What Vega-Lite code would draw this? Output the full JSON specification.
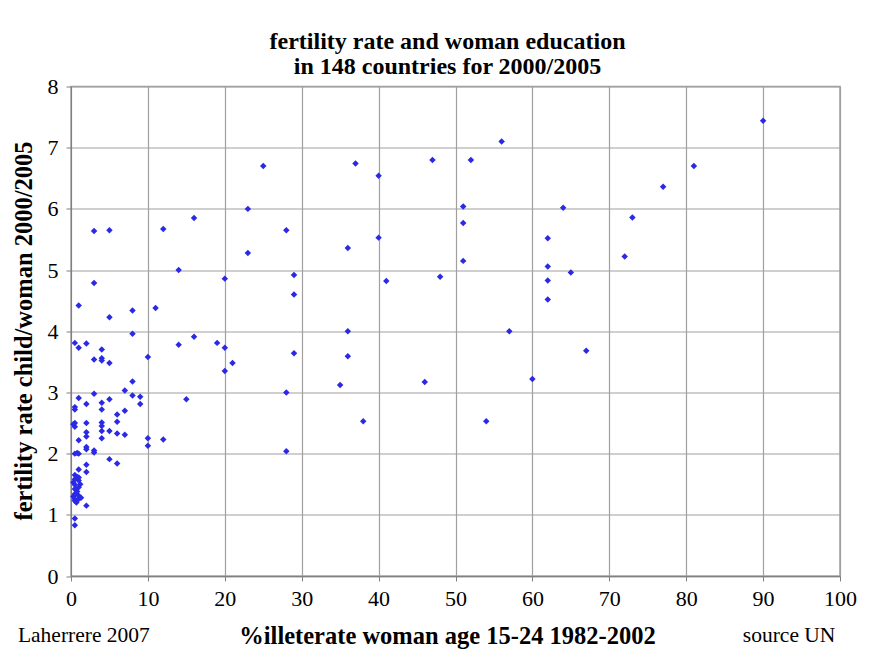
{
  "$schema": "https://vega.github.io/schema/vega-lite/v6.json",
  "width": 769,
  "height": 489.5,
  "autosize": "none",
  "padding": {"left": 71, "top": 86.5, "right": 34, "bottom": 75},
  "background": "white",
  "config": {
    "view": {"stroke": "#a0a0a0", "strokeWidth": 1.5},
    "font": "Liberation Serif"
  },
  "title": {
    "text": ["fertility rate and woman education", "in 148 countries for 2000/2005"],
    "font": "Liberation Serif",
    "fontSize": 24,
    "fontWeight": "bold",
    "color": "black",
    "lineHeight": 25,
    "anchor": "middle",
    "dx": -8,
    "offset": -3
  },
  "data": {
    "values": [
      {"illiterate": 56, "fertility": 7.1},
      {"illiterate": 25, "fertility": 6.7},
      {"illiterate": 37, "fertility": 6.74},
      {"illiterate": 40, "fertility": 6.54},
      {"illiterate": 47, "fertility": 6.8},
      {"illiterate": 52, "fertility": 6.8},
      {"illiterate": 23, "fertility": 6.0},
      {"illiterate": 51, "fertility": 6.04},
      {"illiterate": 51, "fertility": 5.77},
      {"illiterate": 28, "fertility": 5.65},
      {"illiterate": 40, "fertility": 5.53},
      {"illiterate": 36, "fertility": 5.36},
      {"illiterate": 23, "fertility": 5.28},
      {"illiterate": 51, "fertility": 5.15},
      {"illiterate": 20, "fertility": 4.86},
      {"illiterate": 29, "fertility": 4.92},
      {"illiterate": 29, "fertility": 4.6},
      {"illiterate": 41, "fertility": 4.82},
      {"illiterate": 48, "fertility": 4.89},
      {"illiterate": 36, "fertility": 4.0},
      {"illiterate": 57, "fertility": 4.0},
      {"illiterate": 19, "fertility": 3.81},
      {"illiterate": 20, "fertility": 3.73},
      {"illiterate": 21, "fertility": 3.48},
      {"illiterate": 20, "fertility": 3.35},
      {"illiterate": 29, "fertility": 3.64},
      {"illiterate": 36, "fertility": 3.59},
      {"illiterate": 35, "fertility": 3.12},
      {"illiterate": 46, "fertility": 3.17},
      {"illiterate": 60, "fertility": 3.22},
      {"illiterate": 28, "fertility": 3.0},
      {"illiterate": 38, "fertility": 2.53},
      {"illiterate": 54, "fertility": 2.53},
      {"illiterate": 28, "fertility": 2.04},
      {"illiterate": 90, "fertility": 7.44},
      {"illiterate": 81, "fertility": 6.7},
      {"illiterate": 77, "fertility": 6.36},
      {"illiterate": 64, "fertility": 6.02},
      {"illiterate": 73, "fertility": 5.86},
      {"illiterate": 62, "fertility": 5.52},
      {"illiterate": 72, "fertility": 5.22},
      {"illiterate": 62, "fertility": 5.06},
      {"illiterate": 65, "fertility": 4.96},
      {"illiterate": 62, "fertility": 4.83},
      {"illiterate": 62, "fertility": 4.52},
      {"illiterate": 67, "fertility": 3.68},
      {"illiterate": 3, "fertility": 5.64},
      {"illiterate": 5, "fertility": 5.65},
      {"illiterate": 12, "fertility": 5.67},
      {"illiterate": 16, "fertility": 5.85},
      {"illiterate": 14, "fertility": 5.0},
      {"illiterate": 3, "fertility": 4.79},
      {"illiterate": 1, "fertility": 4.42},
      {"illiterate": 8, "fertility": 4.34},
      {"illiterate": 11, "fertility": 4.38},
      {"illiterate": 5, "fertility": 4.23},
      {"illiterate": 8, "fertility": 3.96},
      {"illiterate": 16, "fertility": 3.91},
      {"illiterate": 0.5, "fertility": 3.81},
      {"illiterate": 1, "fertility": 3.73},
      {"illiterate": 2, "fertility": 3.8},
      {"illiterate": 4, "fertility": 3.7},
      {"illiterate": 14, "fertility": 3.78},
      {"illiterate": 3, "fertility": 3.54},
      {"illiterate": 4, "fertility": 3.56},
      {"illiterate": 4, "fertility": 3.52},
      {"illiterate": 5, "fertility": 3.48},
      {"illiterate": 10, "fertility": 3.58},
      {"illiterate": 8, "fertility": 3.18},
      {"illiterate": 7, "fertility": 3.03},
      {"illiterate": 3, "fertility": 2.98},
      {"illiterate": 8, "fertility": 2.95},
      {"illiterate": 9, "fertility": 2.93},
      {"illiterate": 1, "fertility": 2.91},
      {"illiterate": 5, "fertility": 2.89},
      {"illiterate": 15, "fertility": 2.89},
      {"illiterate": 0.5, "fertility": 2.76},
      {"illiterate": 0.5, "fertility": 2.72},
      {"illiterate": 2, "fertility": 2.81},
      {"illiterate": 4, "fertility": 2.83},
      {"illiterate": 4, "fertility": 2.72},
      {"illiterate": 9, "fertility": 2.81},
      {"illiterate": 7, "fertility": 2.7},
      {"illiterate": 6, "fertility": 2.64},
      {"illiterate": 6, "fertility": 2.52},
      {"illiterate": 0.5, "fertility": 2.5},
      {"illiterate": 0.5, "fertility": 2.44},
      {"illiterate": 2, "fertility": 2.5},
      {"illiterate": 4, "fertility": 2.51},
      {"illiterate": 4, "fertility": 2.45},
      {"illiterate": 4, "fertility": 2.37},
      {"illiterate": 4, "fertility": 2.25},
      {"illiterate": 2, "fertility": 2.35},
      {"illiterate": 2, "fertility": 2.28},
      {"illiterate": 5, "fertility": 2.37},
      {"illiterate": 6, "fertility": 2.33},
      {"illiterate": 7, "fertility": 2.31},
      {"illiterate": 1, "fertility": 2.22},
      {"illiterate": 10, "fertility": 2.25},
      {"illiterate": 12, "fertility": 2.23},
      {"illiterate": 10, "fertility": 2.13},
      {"illiterate": 2, "fertility": 2.11},
      {"illiterate": 2, "fertility": 2.07},
      {"illiterate": 3, "fertility": 2.05},
      {"illiterate": 3, "fertility": 2.02},
      {"illiterate": 0.5, "fertility": 2.0},
      {"illiterate": 1, "fertility": 2.0},
      {"illiterate": 5, "fertility": 1.91},
      {"illiterate": 6, "fertility": 1.84},
      {"illiterate": 2, "fertility": 1.82},
      {"illiterate": 2, "fertility": 1.7},
      {"illiterate": 1, "fertility": 1.74},
      {"illiterate": 0.5, "fertility": 1.65},
      {"illiterate": 1, "fertility": 1.61},
      {"illiterate": 0.5, "fertility": 1.58},
      {"illiterate": 1, "fertility": 1.56},
      {"illiterate": 0.5, "fertility": 1.49},
      {"illiterate": 1, "fertility": 1.45},
      {"illiterate": 0.5, "fertility": 1.42},
      {"illiterate": 0.5, "fertility": 1.34},
      {"illiterate": 1, "fertility": 1.31},
      {"illiterate": 0.5, "fertility": 1.26},
      {"illiterate": 1, "fertility": 1.26},
      {"illiterate": 0.5, "fertility": 1.23},
      {"illiterate": 2, "fertility": 1.15},
      {"illiterate": 0.5, "fertility": 0.94},
      {"illiterate": 0.5, "fertility": 0.83},
      {"illiterate": 0.3, "fertility": 1.3},
      {"illiterate": 0.8, "fertility": 1.38},
      {"illiterate": 0.3, "fertility": 1.53},
      {"illiterate": 1.2, "fertility": 1.5},
      {"illiterate": 0.8, "fertility": 1.62},
      {"illiterate": 1.3, "fertility": 1.28},
      {"illiterate": 0.7, "fertility": 1.2},
      {"illiterate": 0.3, "fertility": 2.48},
      {"illiterate": 0.8, "fertility": 2.01}
    ]
  },
  "layer": [
    {
      "mark": {"type": "point", "shape": "diamond", "filled": true, "size": 42, "color": "#2a2ae6", "opacity": 1},
      "encoding": {
        "x": {
          "field": "illiterate",
          "type": "quantitative",
          "scale": {"domain": [0, 100], "nice": false, "zero": false},
          "axis": {
            "title": "%illeterate woman age 15-24 1982-2002",
            "titleFont": "Liberation Serif",
            "titleFontSize": 24.5,
            "titleFontWeight": "bold",
            "titleColor": "black",
            "titleX": 376,
            "titleY": 67,
            "titleBaseline": "alphabetic",
            "titleAnchor": "middle",
            "titleAlign": "center",
            "values": [0, 10, 20, 30, 40, 50, 60, 70, 80, 90, 100],
            "format": "d",
            "labelFont": "Liberation Serif",
            "labelFontSize": 22,
            "labelColor": "black",
            "labelPadding": 7,
            "labelFlush": false,
            "tickColor": "#808080",
            "tickSize": 5,
            "domainColor": "#808080",
            "grid": true,
            "gridColor": "#a0a0a0",
            "gridWidth": 1.2
          }
        },
        "y": {
          "field": "fertility",
          "type": "quantitative",
          "scale": {"domain": [0, 8], "nice": false, "zero": false},
          "axis": {
            "title": "fertility rate child/woman 2000/2005",
            "titleFont": "Liberation Serif",
            "titleFontSize": 24.5,
            "titleFontWeight": "bold",
            "titleColor": "black",
            "titleX": -47,
            "titleY": 244,
            "titleAngle": -90,
            "titleBaseline": "middle",
            "titleAlign": "center",
            "values": [0, 1, 2, 3, 4, 5, 6, 7, 8],
            "format": "d",
            "labelFont": "Liberation Serif",
            "labelFontSize": 22,
            "labelColor": "black",
            "labelPadding": 8,
            "labelFlush": false,
            "tickColor": "#808080",
            "tickSize": 5,
            "domainColor": "#808080",
            "grid": true,
            "gridColor": "#a0a0a0",
            "gridWidth": 1.2
          }
        }
      }
    },
    {
      "data": {"values": [{"label": "Laherrere 2007"}]},
      "mark": {"type": "text", "align": "left", "baseline": "alphabetic", "font": "Liberation Serif", "fontSize": 21.5, "color": "black"},
      "encoding": {
        "x": {"datum": -6.9, "type": "quantitative"},
        "y": {"datum": -1.08, "type": "quantitative"},
        "text": {"field": "label"}
      }
    },
    {
      "data": {"values": [{"label": "source UN"}]},
      "mark": {"type": "text", "align": "right", "baseline": "alphabetic", "font": "Liberation Serif", "fontSize": 21.5, "color": "black"},
      "encoding": {
        "x": {"datum": 99.4, "type": "quantitative"},
        "y": {"datum": -1.08, "type": "quantitative"},
        "text": {"field": "label"}
      }
    }
  ]
}
